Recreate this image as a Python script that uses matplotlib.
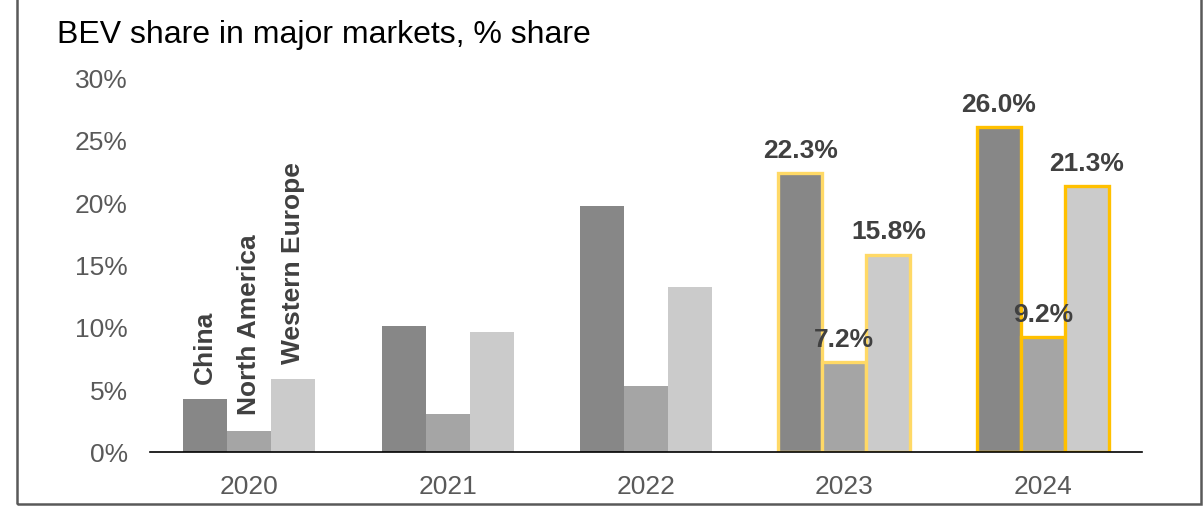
import numpy as np
import matplotlib.pyplot as plt
from matplotlib.patches import Rectangle

plt.rcParams['font.family'] = ['Liberation Sans', 'DejaVu Sans']

years = ['2020', '2021', '2022', '2023', '2024']
regions = ['China', 'North America', 'Western Europe']
china = [4.2, 10.1, 19.7, 22.3, 26.0]
north_america = [1.7, 3.0, 5.3, 7.2, 9.2]
western_europe = [5.8, 9.6, 13.2, 15.8, 21.3]
bar_colors = ['#878787', '#a5a5a5', '#cbcbcb']
edge_colors = [None, None, None, '#ffd966', '#ffc000']
labelled_years = ['2023', '2024']

series = [china, north_america, western_europe]

fig = plt.figure(figsize=(12.03, 5.10), dpi=100)
ax = fig.add_axes([0.1247, 0.1118, 0.8246, 0.7352])

x = np.arange(len(years))
w = 0.222
for i, (vals, col) in enumerate(zip(series, bar_colors)):
    offs = (i - 1) * w
    for j, v in enumerate(vals):
        ec = edge_colors[j]
        ax.bar(x[j] + offs, v, width=w, color=col,
               edgecolor=ec if ec else 'none', linewidth=2.4 if ec else 0)
        if years[j] in labelled_years:
            ax.text(x[j] + offs, v + 0.9, f'{v:.1f}%', ha='center', va='bottom',
                    fontsize=19, fontweight='bold', color='#404040')

# region names stacked vertically over the first group
for i, (vals, name) in enumerate(zip(series, regions)):
    ax.text(x[0] + (i - 1) * w, vals[0] + 1.3, name, rotation=90,
            ha='center', va='bottom', fontsize=19, fontweight='bold',
            color='#404040')

ax.set_xlim(-0.5, len(years) - 0.5)
ax.set_ylim(0, 30)
ax.set_yticks(np.arange(0, 31, 5))
ax.set_yticklabels([f'{t}%' for t in range(0, 31, 5)])
ax.set_xticks(x)
ax.set_xticklabels(years)
ax.tick_params(axis='both', length=0, labelsize=19, colors='#595959')
ax.tick_params(axis='y', pad=16)
ax.tick_params(axis='x', pad=16)
for s in ['top', 'right', 'left']:
    ax.spines[s].set_visible(False)
ax.spines['bottom'].set_color('black')
ax.spines['bottom'].set_linewidth(1.2)

fig.text(57 / 1203, 1 - 35 / 510, 'BEV share in major markets, % share',
         ha='left', va='center', fontsize=23, color='black')

# outer frame (open at the top)
fig.add_artist(Rectangle((17 / 1203, 5 / 510), (1201 - 17) / 1203, 1.2,
                         transform=fig.transFigure, fill=False,
                         edgecolor='#595959', linewidth=1.8, clip_on=False))

fig.savefig('out.png', dpi=100)
